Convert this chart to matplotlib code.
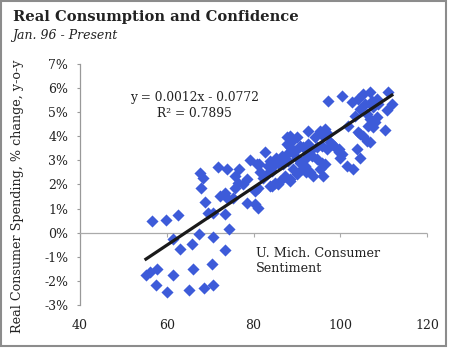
import numpy as np
import matplotlib.pyplot as plt
from matplotlib.patches import Rectangle
from matplotlib.ticker import FuncFormatter

# U. Mich. consumer sentiment vs real consumer spending (% y-o-y), Jan 96 - present
sentiment = [55.2, 56.1, 57.7, 57.5, 60.0, 61.4, 56.5, 59.8, 62.7, 61.4,
             63.1, 65.8, 66.1, 65.2, 68.7, 70.7, 70.4, 67.5, 70.6, 73.4,
             74.4, 73.4, 69.6, 70.6, 68.8, 67.9, 67.7, 68.3, 71.7, 73.8,
             72.3, 73.4, 73.8, 75.7, 76.7, 75.3, 76.5, 77.6, 78.4, 80.3,
             81.1, 80.3, 81.1, 84.2, 85.7, 88.4, 75.7, 79.2, 81.3, 82.6,
             80.7, 83.4, 84.2, 83.0, 82.3, 81.5, 85.3, 86.5, 87.7, 85.7,
             86.9, 88.0, 87.7, 88.8, 90.0, 88.4, 89.6, 90.7, 91.5, 92.6,
             92.6, 94.2, 95.3, 96.5, 96.1, 97.2, 94.6, 95.7, 96.9, 98.0,
             98.8, 99.6, 99.9, 93.4, 94.6, 95.7, 96.5, 95.3, 96.1, 90.7,
             91.9, 91.1, 92.2, 89.2, 90.0, 88.4, 87.3, 86.1, 85.0, 83.8,
             93.8, 101.5, 88.4, 97.2, 100.3, 102.6, 104.2, 105.3, 106.9, 105.7,
             107.3, 104.6, 103.4, 106.1, 107.6, 108.4, 108.8, 111.1, 111.9, 110.7,
             106.9, 108.0, 106.5, 107.6, 108.4, 104.6, 105.3, 106.1, 106.9, 104.2,
             110.3, 103.8, 104.6, 101.9, 97.6, 99.6, 100.3, 103.0, 93.0, 83.8,
             87.7, 88.8, 90.0, 92.2, 93.0, 84.5, 78.4]
spending = [-1.77, -1.62, -1.52, -2.15, -2.46, -1.77, 0.49, 0.52, 0.74, -0.25,
            -0.69, -0.48, -1.49, -2.36, -2.29, -2.18, -1.28, -0.07, -0.18, -0.73,
            0.14, 0.77, 0.83, 0.81, 1.29, 1.87, 2.46, 2.29, 2.73, 2.64,
            1.53, 1.66, 1.46, 1.87, 2.64, 1.46, 2.08, 2.01, 1.25, 1.18,
            1.04, 1.74, 1.87, 1.94, 2.01, 2.15, 2.36, 3.01, 2.85, 3.33,
            2.85, 2.78, 2.57, 2.43, 2.29, 2.50, 3.12, 3.19, 3.26, 2.91,
            2.85, 2.98, 3.95, 3.82, 3.95, 3.54, 3.40, 3.61, 3.54, 3.68,
            4.23, 3.95, 4.23, 4.30, 4.02, 4.09, 3.54, 3.61, 3.47, 3.68,
            3.54, 3.33, 3.12, 3.19, 3.05, 2.91, 2.85, 2.64, 2.36, 2.91,
            2.78, 2.64, 2.50, 2.64, 2.43, 2.22, 2.36, 2.15, 2.08, 1.94,
            2.36, 2.78, 4.02, 5.48, 5.69, 5.41, 5.55, 5.76, 5.83, 5.34,
            5.48, 5.14, 4.86, 4.93, 5.20, 5.55, 5.34, 5.83, 5.34, 5.09,
            4.72, 4.58, 4.44, 4.37, 4.79, 4.09, 4.02, 3.82, 3.75, 4.16,
            4.26, 3.47, 3.12, 4.44, 3.75, 3.47, 3.26, 2.64, 2.50, 2.98,
            3.68, 3.33, 3.12, 3.12, 3.40, 2.78, 2.22]

slope, intercept = 0.0012, -0.0772
eq_label = "y = 0.0012x - 0.0772\nR² = 0.7895"
x_ticks = [40, 60, 80, 100, 120]
y_ticks = [-3, -2, -1, 0, 1, 2, 3, 4, 5, 6, 7]

plt.rcParams['font.family'] = 'DejaVu Serif'
txt = '#222222'

fig = plt.figure(figsize=(4.5, 3.48), dpi=100)
ax = fig.add_axes([0.1778, 0.1236, 0.7711, 0.6925])

ax.scatter(sentiment, spending, marker='D', s=38, color='#3D5BD9', linewidths=0, zorder=3)

xs = np.array([min(sentiment), max(sentiment)])
ax.plot(xs, (slope * xs + intercept) * 100, color='#1a1a1a', lw=2.3, zorder=4)

ax.set_xlim(40, 120)
ax.set_ylim(-3, 7)
ax.set_yticks(y_ticks)
ax.yaxis.set_major_formatter(FuncFormatter(lambda v, p: f"{v:.0f}%"))
ax.tick_params(axis='y', length=2.5, width=0.8, color='#999999', pad=6,
               labelsize=9, labelcolor=txt)

for s in ['top', 'right']:
    ax.spines[s].set_visible(False)
ax.spines['left'].set_color('#999999')
ax.spines['left'].set_linewidth(0.9)
ax.spines['bottom'].set_position(('data', 0))
ax.spines['bottom'].set_color('#aaaaaa')
ax.spines['bottom'].set_linestyle((0, (1, 1)))
ax.spines['bottom'].set_linewidth(0.9)
ax.set_xticks(x_ticks)
ax.tick_params(axis='x', length=3, width=0.8, color='#aaaaaa', labelbottom=False)

sec = ax.secondary_xaxis('bottom')
sec.set_xticks(x_ticks)
sec.spines['bottom'].set_visible(False)
sec.tick_params(axis='x', length=0, pad=10, labelsize=9, labelcolor=txt)

ax.text(0.33, 0.826, eq_label, transform=ax.transAxes, ha='center', va='center',
        fontsize=8.8, color=txt, linespacing=1.3)
ax.text(0.507, 0.183, "U. Mich. Consumer\nSentiment", transform=ax.transAxes,
        ha='left', va='center', fontsize=9.2, color=txt, linespacing=1.25)

fig.text(18 / 450, 1 - 196 / 348, "Real Consumer Spending, % change, y-o-y",
         rotation=90, ha='center', va='center', fontsize=9.2, color=txt)
fig.text(13 / 450, 1 - 17 / 348, "Real Consumption and Confidence",
         fontsize=10.6, fontweight='bold', color=txt, ha='left', va='center')
fig.text(12 / 450, 1 - 36 / 348, "Jan. 96 - Present", fontsize=9,
         style='italic', color=txt, ha='left', va='center')

fig.patches.append(Rectangle((1 / 450, 2 / 348), 445 / 450, 345 / 348,
                             transform=fig.transFigure, fill=False,
                             edgecolor='#8c8c8c', lw=1.5))

fig.savefig('out.png', dpi=100)
